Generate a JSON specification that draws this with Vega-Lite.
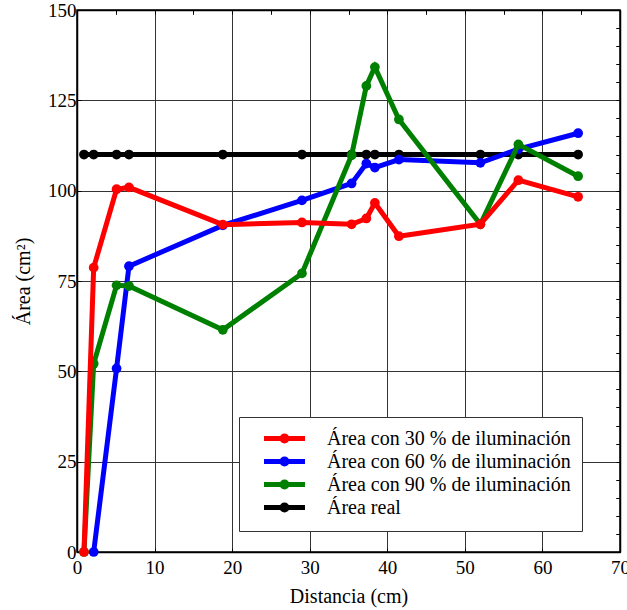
{
  "$schema": "https://vega.github.io/schema/vega-lite/v6.json",
  "autosize": {"type": "none"},
  "width": 543,
  "height": 542,
  "padding": {"left": 77, "top": 10, "right": 7, "bottom": 58},
  "background": "white",
  "config": {
    "font": "Times New Roman, Liberation Serif, DejaVu Serif, serif",
    "view": {"stroke": "black", "strokeWidth": 1.5},
    "axis": {
      "labelFont": "Times New Roman, Liberation Serif, DejaVu Serif, serif",
      "titleFont": "Times New Roman, Liberation Serif, DejaVu Serif, serif",
      "labelFontSize": 19,
      "titleFontSize": 20,
      "titleFontWeight": "normal",
      "labelColor": "black",
      "titleColor": "black",
      "domainColor": "black",
      "domainWidth": 1.5,
      "tickColor": "black",
      "tickSize": -4,
      "gridColor": "#333333",
      "gridWidth": 1,
      "labelFlush": false
    }
  },
  "data": {
    "values": [
      {"serie": "Área real", "distancia": 0.9, "area": 110},
      {"serie": "Área real", "distancia": 2.15, "area": 110},
      {"serie": "Área real", "distancia": 5.1, "area": 110},
      {"serie": "Área real", "distancia": 6.7, "area": 110},
      {"serie": "Área real", "distancia": 18.8, "area": 110},
      {"serie": "Área real", "distancia": 29.0, "area": 110},
      {"serie": "Área real", "distancia": 35.4, "area": 110},
      {"serie": "Área real", "distancia": 37.3, "area": 110},
      {"serie": "Área real", "distancia": 38.4, "area": 110},
      {"serie": "Área real", "distancia": 41.5, "area": 110},
      {"serie": "Área real", "distancia": 52.0, "area": 110},
      {"serie": "Área real", "distancia": 56.9, "area": 110},
      {"serie": "Área real", "distancia": 64.6, "area": 110},
      {"serie": "Área con 60 % de iluminación", "distancia": 2.15, "area": 0},
      {"serie": "Área con 60 % de iluminación", "distancia": 5.1, "area": 50.8},
      {"serie": "Área con 60 % de iluminación", "distancia": 6.7, "area": 79.1},
      {"serie": "Área con 60 % de iluminación", "distancia": 18.8, "area": 90.4},
      {"serie": "Área con 60 % de iluminación", "distancia": 29.0, "area": 97.3},
      {"serie": "Área con 60 % de iluminación", "distancia": 35.4, "area": 102.0},
      {"serie": "Área con 60 % de iluminación", "distancia": 37.3, "area": 107.5},
      {"serie": "Área con 60 % de iluminación", "distancia": 38.4, "area": 106.4},
      {"serie": "Área con 60 % de iluminación", "distancia": 41.5, "area": 108.6},
      {"serie": "Área con 60 % de iluminación", "distancia": 52.0, "area": 107.7},
      {"serie": "Área con 60 % de iluminación", "distancia": 56.9, "area": 111.5},
      {"serie": "Área con 60 % de iluminación", "distancia": 64.6, "area": 115.9},
      {"serie": "Área con 90 % de iluminación", "distancia": 0.9, "area": 0},
      {"serie": "Área con 90 % de iluminación", "distancia": 2.15, "area": 52.1},
      {"serie": "Área con 90 % de iluminación", "distancia": 5.1, "area": 73.8},
      {"serie": "Área con 90 % de iluminación", "distancia": 6.7, "area": 73.6},
      {"serie": "Área con 90 % de iluminación", "distancia": 18.8, "area": 61.5},
      {"serie": "Área con 90 % de iluminación", "distancia": 29.0, "area": 77.1},
      {"serie": "Área con 90 % de iluminación", "distancia": 35.4, "area": 109.8},
      {"serie": "Área con 90 % de iluminación", "distancia": 37.3, "area": 129.0},
      {"serie": "Área con 90 % de iluminación", "distancia": 38.4, "area": 134.2},
      {"serie": "Área con 90 % de iluminación", "distancia": 41.5, "area": 119.7},
      {"serie": "Área con 90 % de iluminación", "distancia": 52.0, "area": 90.7},
      {"serie": "Área con 90 % de iluminación", "distancia": 56.9, "area": 112.8},
      {"serie": "Área con 90 % de iluminación", "distancia": 64.6, "area": 104.0},
      {"serie": "Área con 30 % de iluminación", "distancia": 0.9, "area": 0},
      {"serie": "Área con 30 % de iluminación", "distancia": 2.15, "area": 78.7},
      {"serie": "Área con 30 % de iluminación", "distancia": 5.1, "area": 100.4},
      {"serie": "Área con 30 % de iluminación", "distancia": 6.7, "area": 100.9},
      {"serie": "Área con 30 % de iluminación", "distancia": 18.8, "area": 90.6},
      {"serie": "Área con 30 % de iluminación", "distancia": 29.0, "area": 91.2},
      {"serie": "Área con 30 % de iluminación", "distancia": 35.4, "area": 90.7},
      {"serie": "Área con 30 % de iluminación", "distancia": 37.3, "area": 92.3},
      {"serie": "Área con 30 % de iluminación", "distancia": 38.4, "area": 96.6},
      {"serie": "Área con 30 % de iluminación", "distancia": 41.5, "area": 87.4},
      {"serie": "Área con 30 % de iluminación", "distancia": 52.0, "area": 90.7},
      {"serie": "Área con 30 % de iluminación", "distancia": 56.9, "area": 102.9},
      {"serie": "Área con 30 % de iluminación", "distancia": 64.6, "area": 98.3}
    ]
  },
  "encoding": {
    "x": {
      "field": "distancia", "type": "quantitative",
      "scale": {"domain": [0, 70], "nice": false, "zero": false},
      "axis": null
    },
    "y": {
      "field": "area", "type": "quantitative",
      "scale": {"domain": [0, 150], "nice": false},
      "axis": null
    },
    "color": {
      "field": "serie", "type": "nominal",
      "scale": {
        "domain": ["Área con 30 % de iluminación", "Área con 60 % de iluminación", "Área con 90 % de iluminación", "Área real"],
        "range": ["#ff0000", "#0000ff", "#008000", "#000000"]
      },
      "legend": {
        "title": null,
        "orient": "none",
        "legendX": 162,
        "legendY": 407,
        "direction": "vertical",
        "fillColor": "white",
        "strokeColor": "#333333",
        "padding": 11,
        "symbolOffset": 24,
        "symbolType": "M-2.56,0H2.56M0.31,0A0.31,0.31 0 1,1 -0.31,0A0.31,0.31 0 1,1 0.31,0",
        "symbolSize": 256,
        "symbolStrokeWidth": 5,
        "labelFont": "Times New Roman, Liberation Serif, DejaVu Serif, serif",
        "labelFontSize": 20,
        "labelColor": "black",
        "labelOffset": 32,
        "labelLimit": 400,
        "labelExpr": "datum.label + '\u00a0\u00a0\u00a0'",
        "rowPadding": -2
      }
    }
  },
  "layer": [
    {
      "mark": {"type": "point", "opacity": 0},
      "encoding": {
        "color": {"value": "transparent"},
        "x": {
          "field": "distancia", "type": "quantitative",
          "axis": {
            "title": "Distancia (cm)",
            "values": [0,10,20,30,40,50,60,70],
            "grid": true,
            "labelPadding": 10,
            "titlePadding": 9
          }
        },
        "y": {
          "field": "area", "type": "quantitative",
          "axis": {
            "title": "Área (cm²)",
            "values": [0,25,50,75,100,125,150],
            "grid": true,
            "labelPadding": 5,
            "titlePadding": 14
          }
        }
      }
    },
    {
      "mark": {"type": "point", "opacity": 0},
      "encoding": {
        "color": {"value": "transparent"},
        "x": {
          "field": "distancia", "type": "quantitative",
          "axis": {
            "title": null, "labels": false, "grid": false, "domain": false,
            "values": [5,15,25,35,45,55,65]
          }
        },
        "y": {
          "field": "area", "type": "quantitative",
          "axis": {
            "title": null, "labels": false, "grid": false, "domain": false,
            "values": [5,10,15,20,30,35,40,45,55,60,65,70,80,85,90,95,105,110,115,120,130,135,140,145]
          }
        }
      }
    },
    {
      "mark": {"type": "point", "opacity": 0},
      "encoding": {
        "color": {"value": "transparent"},
        "x": {
          "field": "distancia", "type": "quantitative",
          "axis": {
            "orient": "top", "title": null, "labels": false, "grid": false,
            "values": [0,5,10,15,20,25,30,35,40,45,50,55,60,65,70]
          }
        },
        "y": {
          "field": "area", "type": "quantitative",
          "axis": {
            "orient": "right", "title": null, "labels": false, "grid": false,
            "values": [0,5,10,15,20,25,30,35,40,45,50,55,60,65,70,75,80,85,90,95,100,105,110,115,120,125,130,135,140,145,150]
          }
        }
      }
    },
    {
      "transform": [{"filter": "datum.serie === 'Área real'"}],
      "mark": {"type": "line", "strokeWidth": 5, "point": {"size": 95, "filled": true}}
    },
    {
      "transform": [{"filter": "datum.serie === 'Área con 60 % de iluminación'"}],
      "mark": {"type": "line", "strokeWidth": 5, "point": {"size": 95, "filled": true}}
    },
    {
      "transform": [{"filter": "datum.serie === 'Área con 90 % de iluminación'"}],
      "mark": {"type": "line", "strokeWidth": 5, "point": {"size": 95, "filled": true}}
    },
    {
      "transform": [{"filter": "datum.serie === 'Área con 30 % de iluminación'"}],
      "mark": {"type": "line", "strokeWidth": 5, "point": {"size": 95, "filled": true}}
    }
  ],
  "resolve": {"axis": {"x": "independent", "y": "independent"}}
}
